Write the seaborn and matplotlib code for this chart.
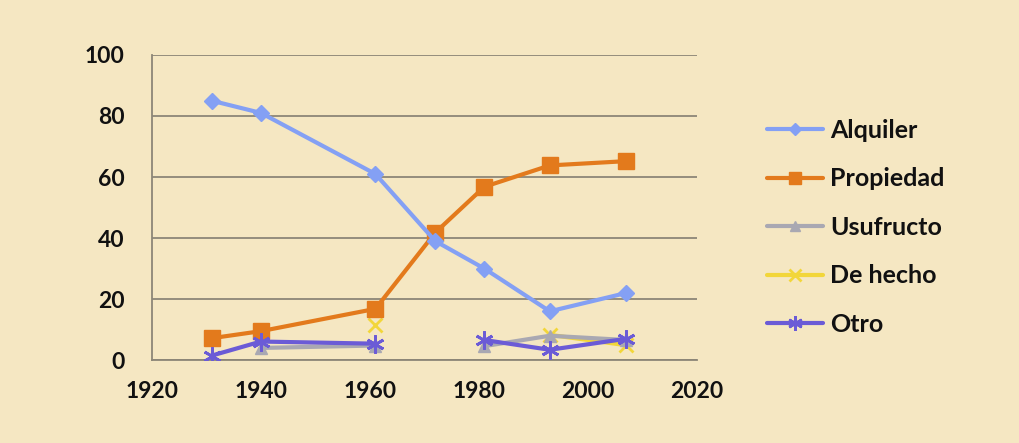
import numpy as np
import pandas as pd
import matplotlib
matplotlib.use("Agg")
import matplotlib.pyplot as plt
import seaborn as sns

# Census years and share of dwellings by tenure (%)
years = [1931, 1940, 1961, 1972, 1981, 1993, 2007]
alquiler = [85, 81, 61, 39, 30, 16, 22]
propiedad = [7.2, 9.5, 16.8, 41.8, 56.8, 63.8, 65.2]
usufructo = [np.nan, 4.0, 4.8, np.nan, 4.6, 8.0, 6.6]
de_hecho = [np.nan, np.nan, 11.5, np.nan, np.nan, 8.3, 4.9]
otro = [1.5, 6.1, 5.4, np.nan, 6.6, 3.4, 7.0]

series_names = ["Alquiler", "Propiedad", "Usufructo", "De hecho", "Otro"]
series_values = [alquiler, propiedad, usufructo, de_hecho, otro]
x_ticks = [1920, 1940, 1960, 1980, 2000, 2020]
y_ticks = [0, 20, 40, 60, 80, 100]

BG = "#F5E7C2"
GRID = "#8C8677"
styles = {
    "Alquiler": dict(color="#84A0F4", marker="D", ms=8),
    "Propiedad": dict(color="#E37A1C", marker="s", ms=11),
    "Usufructo": dict(color="#A9A8B2", marker="^", ms=9),
    "De hecho": dict(color="#F2D63A", marker="x", ms=10),
    "Otro": dict(color="#6B5BD6", marker=(6, 2, 0), ms=13),
}

sns.set_style("white")
plt.rcParams["font.family"] = ["Lato", "DejaVu Sans"]

fig = plt.figure(figsize=(10.19, 4.43), dpi=100, facecolor=BG)
ax = fig.add_axes([0.149, 0.187, 0.535, 0.689])
ax.set_facecolor(BG)

df = pd.DataFrame({"year": years})
for name, vals in zip(series_names, series_values):
    df[name] = vals

handles = []
for z, name in enumerate(series_names):
    st = styles[name]
    mew = 2 if name in ("De hecho", "Otro") else 1
    sub = df[["year", name]].copy()
    # split at missing values so each run of data is drawn as its own segment
    sub = sub.assign(seg=sub[name].isna().cumsum()).dropna()
    for _, seg in sub.groupby("seg"):
        sns.lineplot(data=seg, x="year", y=name, ax=ax, color=st["color"],
                     lw=3, marker=st["marker"], markersize=st["ms"],
                     markeredgecolor=st["color"], markeredgewidth=mew,
                     zorder=3 + (4 - z if name != "Otro" else 5), legend=False)
    handles.append(plt.Line2D([], [], color=st["color"], lw=3, marker=st["marker"],
                              markersize=st["ms"] * 0.8, markeredgecolor=st["color"],
                              markeredgewidth=mew))

ax.set_xlim(1920, 2020)
ax.set_ylim(0, 100)
ax.set_xticks(x_ticks)
ax.set_yticks(y_ticks)
ax.set_xlabel("")
ax.set_ylabel("")
ax.grid(axis="y", color=GRID, lw=1.3, zorder=0)
ax.set_axisbelow(True)
for s in ["top", "right"]:
    ax.spines[s].set_visible(False)
for s in ["left", "bottom"]:
    ax.spines[s].set_color(GRID)
    ax.spines[s].set_linewidth(1.3)
ax.tick_params(axis="y", length=6.5, width=1.3, color=GRID, pad=13, labelsize=16.5)
ax.tick_params(axis="x", length=4, width=1.3, color=GRID, pad=11, labelsize=16.5)
for lab in ax.get_xticklabels() + ax.get_yticklabels():
    lab.set_fontweight("bold")
    lab.set_color("#111111")

leg = fig.legend(handles, series_names, loc="center left",
                 bbox_to_anchor=(0.740, 0.487), frameon=False,
                 borderpad=0, handlelength=2.25, handletextpad=0.3,
                 labelspacing=1.02, prop=dict(size=18, weight="bold"))
for t in leg.get_texts():
    t.set_color("#111111")

fig.savefig("out.png", dpi=100, facecolor=BG)
